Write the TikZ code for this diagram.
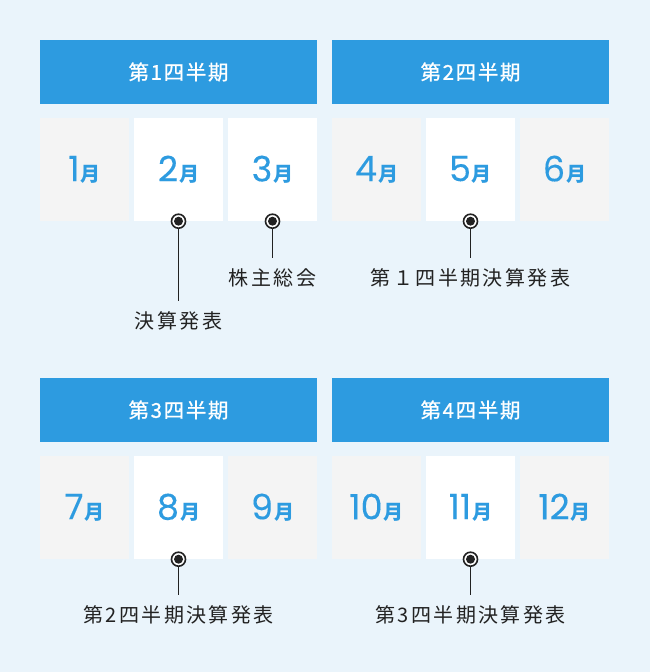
\documentclass[tikz,border=0pt]{standalone}
\usepackage{fontspec}
\setmainfont{Noto Sans CJK JP}
\newfontfamily\numfont{Poppins}[FakeBold=0.2]
\newfontfamily\headfont{Noto Sans CJK JP}[FakeBold=0.8, LetterSpace=8]
\usetikzlibrary{positioning}
\definecolor{pageblue}{RGB}{234,244,251}
\definecolor{headblue}{RGB}{45,155,224}
\definecolor{cellgray}{RGB}{244,244,244}
\definecolor{inkgray}{RGB}{34,34,34}

\tikzset{
  quarter/.style={fill=headblue, text=white, minimum width=277pt, minimum height=64pt, inner sep=0pt,
    font=\headfont\fontsize{20.5}{24}\selectfont},
  month/.style={fill=white, text=headblue, minimum width=89pt, minimum height=103pt, inner sep=0pt},
  offmonth/.style={month, fill=cellgray},
  marker/.style={circle, draw=inkgray, fill=white, line width=1.6pt, minimum size=14pt, inner sep=0pt,
    path picture={\fill[inkgray] (path picture bounding box.center) circle (4.5pt);}},
  event/.style={text=inkgray, inner sep=0pt,
    font=\fontsize{20}{24}\selectfont\addfontfeatures{LetterSpace=12}},
  link/.style={draw=inkgray, line width=1.5pt, shorten >=11pt}
}
\newcommand{\monthlabel}[1]{{\numfont\fontsize{35}{35}\selectfont #1}\hspace{1pt}{\bfseries\fontsize{20}{20}\selectfont 月}}

\begin{document}
\begin{tikzpicture}[x=1pt,y=-1pt]
  \fill[pageblue] (0,0) rectangle (650,672);
  \useasboundingbox (0,0) rectangle (650,672);

  % quarter headers
  \node[quarter] (q1) at (178.5,72) {第1四半期};
  \node[quarter] (q2) at (470.5,72) {第2四半期};
  \node[quarter] (q3) at (178.5,410) {第3四半期};
  \node[quarter] (q4) at (470.5,410) {第4四半期};

  % months
  \node[offmonth] (jan) at (84.5,169.5) {\monthlabel{1}};
  \node[month]    (feb) at (178.5,169.5) {\monthlabel{2}};
  \node[month]    (mar) at (272.5,169.5) {\monthlabel{3}};
  \node[offmonth] (apr) at (376.5,169.5) {\monthlabel{4}};
  \node[month]    (may) at (470.5,169.5) {\monthlabel{5}};
  \node[offmonth] (jun) at (564.5,169.5) {\monthlabel{6}};

  \node[offmonth] (jul) at (84.5,507.5) {\monthlabel{7}};
  \node[month]    (aug) at (178.5,507.5) {\monthlabel{8}};
  \node[offmonth] (sep) at (272.5,507.5) {\monthlabel{9}};
  \node[offmonth] (oct) at (376.5,507.5) {\monthlabel{10}};
  \node[month]    (nov) at (470.5,507.5) {\monthlabel{11}};
  \node[offmonth] (dec) at (564.5,507.5) {\monthlabel{12}};

  % events
  \node[marker] (mfeb) at (feb.south) {};
  \node[marker] (mmar) at (mar.south) {};
  \node[marker] (mmay) at (may.south) {};
  \node[marker] (maug) at (aug.south) {};
  \node[marker] (mnov) at (nov.south) {};

  \node[event] (efeb) at (178.5,321) {決算発表};
  \node[event] (emar) at (272.5,278) {株主総会};
  \node[event] (emay) at (470.5,278) {第１四半期決算発表};
  \node[event] (eaug) at (178.5,615) {第2四半期決算発表};
  \node[event] (enov) at (470.5,615) {第3四半期決算発表};

  \draw[link] (mfeb) -- (efeb);
  \draw[link] (mmar) -- (emar);
  \draw[link] (mmay) -- (emay);
  \draw[link] (maug) -- (eaug);
  \draw[link] (mnov) -- (enov);
\end{tikzpicture}
\end{document}
